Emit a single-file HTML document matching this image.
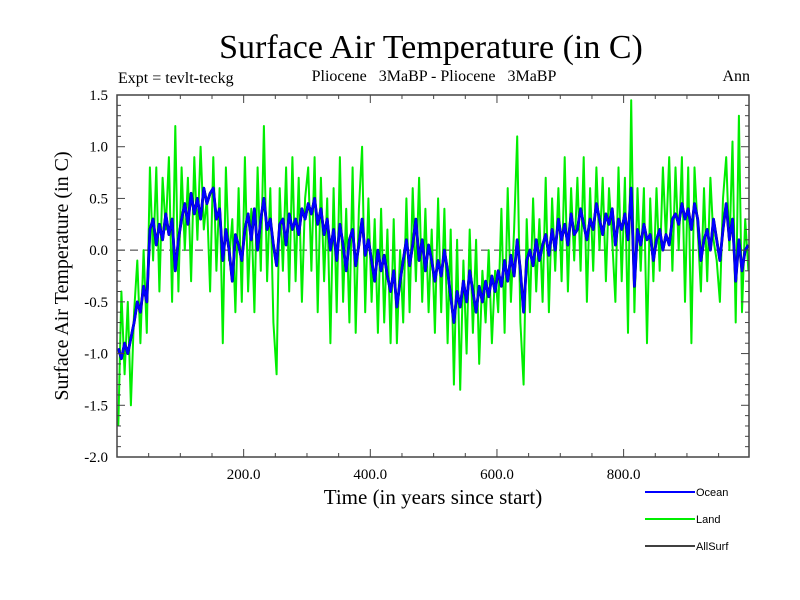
<!DOCTYPE html>
<html><head><meta charset="utf-8"><style>
body{margin:0;background:#fff;}
svg{display:block;font-family:"Liberation Serif",serif;}
</style></head><body>
<svg id="chart" width="800" height="600">
<text x="431" y="58" font-size="34" text-anchor="middle">Surface Air Temperature (in C)</text>
<text x="118" y="83" font-size="16">Expt = tevlt-teckg</text>
<text x="434" y="81" font-size="16" text-anchor="middle" style="white-space:pre" xml:space="preserve">Pliocene   3MaBP - Pliocene   3MaBP</text>
<text x="750" y="81" font-size="16" text-anchor="end">Ann</text>
<text x="433" y="504" font-size="21" text-anchor="middle">Time (in years since start)</text>
<text transform="translate(68,276) rotate(-90)" font-size="20" text-anchor="middle">Surface Air Temperature (in C)</text>
<g id="plot"></g>
<g id="legend" font-family="Liberation Sans, sans-serif" font-size="11">
<line x1="645" y1="492" x2="695" y2="492" stroke="#0000ff" stroke-width="2"/>
<text x="696" y="496">Ocean</text>
<line x1="645" y1="519" x2="695" y2="519" stroke="#00ee00" stroke-width="2"/>
<text x="696" y="523">Land</text>
<line x1="645" y1="546" x2="695" y2="546" stroke="#000" stroke-width="1.5"/>
<text x="696" y="550">AllSurf</text>
</g>
</svg>
<script>
const years = Array.from({length:200},(_,i)=>i*5);
const ocean = [-0.95,-1.05,-0.9,-1.0,-0.85,-0.7,-0.5,-0.6,-0.35,-0.5,
0.2,0.3,0.05,0.25,0.1,0.35,0.15,0.3,-0.2,0.1,
0.3,0.45,0.25,0.55,0.35,0.5,0.3,0.6,0.45,0.55,
0.6,0.3,0.4,-0.1,0.2,0.0,-0.3,0.15,0.05,-0.1,
0.2,0.35,0.1,0.4,0.0,0.3,0.5,0.2,0.3,0.05,
-0.15,0.25,0.3,0.05,0.35,0.2,0.3,0.15,0.4,0.3,
0.45,0.35,0.5,0.25,0.4,0.15,0.3,0.0,0.2,-0.1,
0.25,0.05,-0.2,0.1,0.2,-0.15,0.05,0.3,-0.05,0.1,
-0.1,-0.3,0.0,-0.2,-0.05,-0.25,-0.4,-0.2,-0.55,-0.3,
-0.1,0.1,-0.15,0.05,0.3,-0.1,0.1,-0.2,0.05,-0.1,
-0.3,-0.1,-0.25,0.0,-0.2,-0.45,-0.7,-0.4,-0.55,-0.3,
-0.5,-0.2,-0.4,-0.6,-0.35,-0.5,-0.3,-0.45,-0.25,-0.4,
-0.2,-0.35,-0.1,-0.3,-0.05,-0.25,0.1,-0.2,-0.6,-0.1,
0.0,-0.15,0.1,-0.1,0.05,0.15,-0.05,0.2,0.0,0.3,
0.1,0.25,0.05,0.35,0.15,0.2,0.4,0.25,0.1,0.3,
0.2,0.45,0.3,0.15,0.35,0.25,0.4,0.05,0.3,0.2,
0.35,0.1,0.6,-0.35,0.2,0.05,0.25,0.1,0.15,-0.1,
0.1,0.2,0.0,0.15,0.05,0.3,0.35,0.25,0.45,0.3,
0.4,0.2,0.45,0.3,-0.1,0.1,0.2,0.0,0.3,0.1,
-0.1,0.2,0.45,0.1,0.3,-0.3,0.1,-0.2,0.0,0.05];
const land = [-1.7,-0.4,-1.2,-0.5,-1.5,-0.6,-0.1,-0.9,0.0,-0.8,
0.8,-0.1,0.8,-0.4,0.7,0.2,0.9,-0.5,1.2,-0.4,
0.8,0.0,0.7,-0.3,0.9,0.1,1.0,0.2,0.5,-0.4,
0.9,-0.2,0.6,-0.9,0.8,-0.1,0.3,-0.6,0.6,-0.5,
0.9,-0.4,0.4,-0.6,0.8,-0.2,1.2,-0.3,0.6,-0.7,
-1.2,0.6,-0.2,0.8,-0.4,0.9,-0.3,0.7,-0.5,0.5,
0.8,-0.2,0.9,-0.6,0.7,-0.3,0.5,-0.9,0.6,-0.6,
0.9,-0.5,0.4,-0.7,0.8,-0.8,0.4,1.0,-0.6,0.5,
-0.5,0.3,-0.8,0.4,-0.7,0.2,-0.9,0.3,-0.9,0.0,
-0.7,0.5,-0.6,0.6,-0.3,0.7,-0.5,0.4,-0.6,0.2,
-0.8,0.5,-0.6,0.4,-0.9,0.2,-1.3,0.1,-1.35,-0.1,
-1.0,0.2,-0.8,0.1,-1.1,-0.2,-0.7,0.0,-0.9,-0.2,
-0.6,0.4,-0.8,0.6,-0.5,0.2,1.1,-0.7,-1.3,0.3,
-0.6,0.5,-0.4,0.3,-0.5,0.7,-0.6,0.5,-0.2,0.6,
-0.3,0.9,-0.4,0.6,-0.1,0.7,-0.2,0.9,-0.5,0.6,
-0.2,0.8,0.0,0.7,-0.3,0.6,0.1,-0.5,0.8,-0.3,
0.7,-0.8,1.45,-0.6,0.6,-0.2,0.6,-0.9,0.5,-0.3,
0.6,-0.2,0.8,0.1,0.9,-0.2,0.8,0.0,0.9,-0.5,
0.8,-0.9,0.8,0.2,-0.4,0.6,-0.3,0.7,0.1,-0.1,
-0.5,0.5,0.9,0.0,1.05,-0.7,1.3,-0.6,0.3,-0.2];
const allsurf = ocean.map(v=>v);
const yTicks = [-2.0,-1.5,-1.0,-0.5,0.0,0.5,1.0,1.5];
const xTicks = [200,400,600,800];

const L=117,R=749,T=95,B=457,X0=0,X1=998,Y0=-2,Y1=1.5;
const sx=v=>L+(v-X0)/(X1-X0)*(R-L);
const sy=v=>B-(v-Y0)/(Y1-Y0)*(B-T);
const NS='http://www.w3.org/2000/svg';
const g=document.getElementById('plot');
function mk(tag,attrs){const e=document.createElementNS(NS,tag);for(const k in attrs)e.setAttribute(k,attrs[k]);g.appendChild(e);return e;}

const zl=mk('line',{x1:L,x2:R,y1:sy(0),y2:sy(0),stroke:'#333','stroke-dasharray':'8,5','stroke-width':1});



function series(vals,color,w,name){
  const d=vals.map((v,i)=>(i?'L':'M')+sx(years[i]+2).toFixed(1)+','+sy(v).toFixed(1)).join('');
  const p=mk('path',{d:d,fill:'none',stroke:color,'stroke-width':w,'stroke-linejoin':'round'});
  
  
}
series(land,'#00ee00',2,'land-series');
series(allsurf,'#000',2.8,'allsurf-series');
series(ocean,'#0000ff',2.5,'ocean-series');

const frame=mk('rect',{x:L,y:T,width:R-L,height:B-T,fill:'none',stroke:'#444','stroke-width':1.5});



for(let v=-2;v<=1.5001;v+=0.1){
  const y=sy(v);const major=Math.abs(v*2-Math.round(v*2))<1e-6;const len=major?8:4;
  mk('line',{x1:L,x2:L+len,y1:y,y2:y,stroke:'#444'});
  mk('line',{x1:R-len,x2:R,y1:y,y2:y,stroke:'#444'});
}
for(let v=50;v<X1;v+=50){
  const x=sx(v);const len=(v%200===0)?8:4;
  mk('line',{x1:x,x2:x,y1:B,y2:B-len,stroke:'#444'});
  mk('line',{x1:x,x2:x,y1:T,y2:T+len,stroke:'#444'});
}
yTicks.forEach(v=>{
  const t=mk('text',{x:108,y:sy(v)+5,'font-size':15,'text-anchor':'end'});
  t.textContent=v.toFixed(1);
  
  
});
xTicks.forEach(v=>{
  const t=mk('text',{x:sx(v),y:479,'font-size':15,'text-anchor':'middle'});
  t.textContent=v.toFixed(1);
  
  
});
</script>
</body></html>
